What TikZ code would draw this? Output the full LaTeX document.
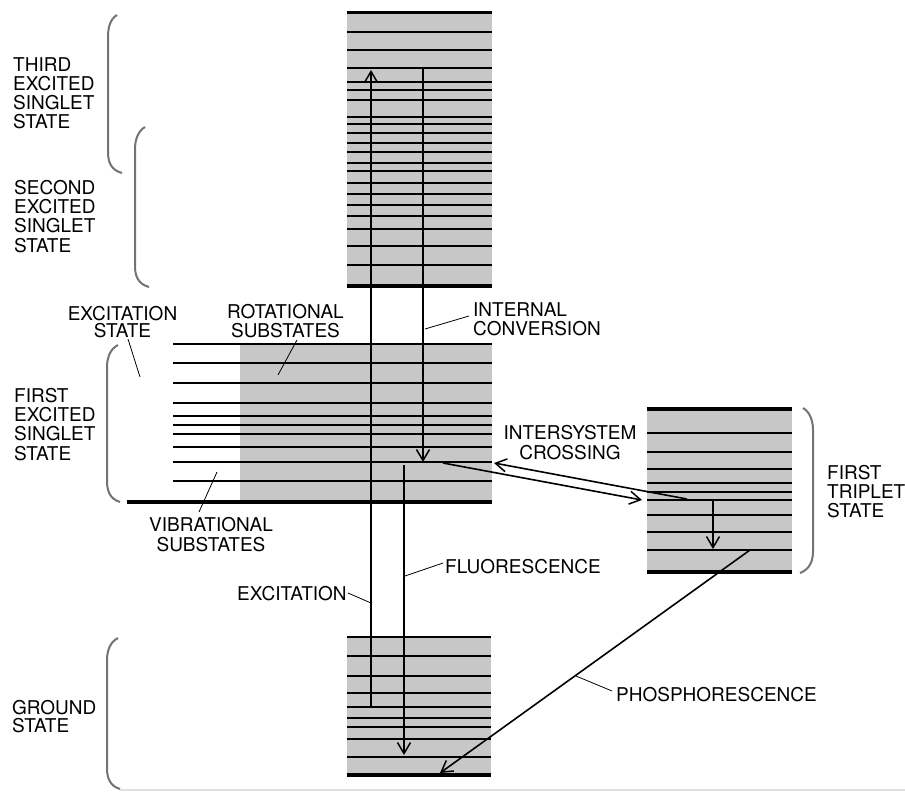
\documentclass[tikz,border=0pt]{standalone}
\usepackage{fontspec}
\setmainfont{TeX Gyre Heros}
\usetikzlibrary{arrows.meta}
\tikzset{
  lvl/.style={line width=1.8pt},
  lvlthick/.style={line width=3.2pt},
  band/.style={fill=black!22, draw=none},
  brk/.style={draw=black!55, line width=2pt},
  arr/.style={line width=1.6pt, -{Straight Barb[length=11pt,width=13pt,line width=1.5pt]}},
  lead/.style={line width=0.8pt},
  lbl/.style={font=\fontsize{19}{19.3}\selectfont, inner sep=0pt, align=left, anchor=north west},
  clbl/.style={font=\fontsize{19}{19.3}\selectfont, inner sep=0pt, align=center, anchor=north}
}
\begin{document}
\begin{tikzpicture}[x=1pt,y=-1pt]
\useasboundingbox (0,0) rectangle (905,792);
\fill[white] (0,0) rectangle (905,792);

% ---- gray bands
\path[band] (347,12.7) rectangle (492,286);
\path[band] (240,344) rectangle (492,502);
\path[band] (647,409) rectangle (792,572);
\path[band] (347,637) rectangle (491,775);

% ---- third/second excited singlet levels
\draw[lvlthick] (347,12.7) -- (492,12.7);
\foreach \y in {31.7,50,68,82,90,100,117,124,133,143,152,163,171,183,194,205,216,229,246,265}
  \draw[lvl] (347,\y) -- (492,\y);
\draw[lvlthick] (347,286) -- (492,286);

% ---- first excited singlet levels
\foreach \y in {344,363,383,403,416,425,434,447,462,481}
  \draw[lvl] (173,\y) -- (492,\y);
\draw[lvlthick] (127,502) -- (492,502);

% ---- first triplet levels
\draw[lvlthick] (647,409) -- (792,409);
\foreach \y in {433,452,469,483,492,500,515,532,550}
  \draw[lvl] (647,\y) -- (792,\y);
\draw[lvlthick] (647,572) -- (792,572);

% ---- ground state levels
\foreach \y in {637,656,676,693,707,718,727,739,757}
  \draw[lvl] (347,\y) -- (491,\y);
\draw[lvlthick] (347,775) -- (491,775);

% ---- brackets
\draw[brk] (117,15) .. controls (110,19) and (108,28) .. (108,37) -- (108,152) .. controls (108,162) and (111,170) .. (122,173);
\draw[brk] (145,127) .. controls (138,131) and (135,140) .. (135,149) -- (135,266) .. controls (135,276) and (138,284) .. (149,287);
\draw[brk] (118,345) .. controls (110,349) and (107,358) .. (107,367) -- (107,481) .. controls (107,491) and (110,499) .. (120,502);
\draw[brk] (118,638) .. controls (110,642) and (107,651) .. (107,660) -- (107,768) .. controls (107,778) and (110,786) .. (120,789);
\draw[brk] (803,408) .. controls (810,412) and (813,421) .. (813,430) -- (813,551) .. controls (813,561) and (810,569) .. (800,573);

% ---- transition endpoints
\coordinate (exA) at (371,707);
\coordinate (exB) at (371,70);
\coordinate (icA) at (423,68);
\coordinate (icB) at (423,462);
\coordinate (flA) at (404,465);
\coordinate (flB) at (404,755);
\coordinate (trA) at (713,500);
\coordinate (trB) at (713,549);
\coordinate (phA) at (750,550);
\coordinate (phB) at (440,773);
\coordinate (isA) at (443,463);
\coordinate (isB) at (642,500);
\coordinate (isC) at (687,499);
\coordinate (isD) at (494,463);

\draw[arr] (exA) -- (exB);
\draw[arr] (icA) -- (icB);
\draw[arr] (flA) -- (flB);
\draw[arr] (trA) -- (trB);
\draw[arr] (phA) -- (phB);
\draw[arr] (isA) -- (isB);
\draw[arr] (isC) -- (isD);

% ---- labels
\node[lbl] (third) at (13,57) {THIRD\\EXCITED\\SINGLET\\STATE};
\node[lbl] (second) at (14,180) {SECOND\\EXCITED\\SINGLET\\STATE};
\node[clbl, font=\fontsize{19}{17.5}\selectfont] (exstate) at (122.5,306) {EXCITATION\\STATE};
\node[clbl] (rot) at (285.5,304) {ROTATIONAL\\SUBSTATES};
\node[lbl] (first) at (14,388) {FIRST\\EXCITED\\SINGLET\\STATE};
\node[clbl, font=\fontsize{19}{20.5}\selectfont] (vib) at (211,517) {VIBRATIONAL\\SUBSTATES};
\node[lbl] (ic) at (473,302) {INTERNAL\\CONVERSION};
\node[clbl, font=\fontsize{19}{20}\selectfont] (isc) at (570,425) {INTERSYSTEM\\CROSSING};
\node[lbl] (trip) at (827,465) {FIRST\\TRIPLET\\STATE};
\node[lbl] (exc) at (237,586) {EXCITATION};
\node[lbl] (fluo) at (445,559) {FLUORESCENCE};
\node[lbl] (phos) at (616,687) {PHOSPHORESCENCE};
\node[lbl, font=\fontsize{19}{18}\selectfont] (ground) at (12,700) {GROUND\\STATE};

% ---- leaders
\coordinate (l1a) at (128,339); \coordinate (l1b) at (140,377);
\coordinate (l2a) at (297,340); \coordinate (l2b) at (278,375);
\coordinate (l3a) at (199,512); \coordinate (l3b) at (217,472);
\coordinate (l4a) at (469,316); \coordinate (l4b) at (425,329);
\coordinate (l5a) at (348,593); \coordinate (l5b) at (371,603);
\coordinate (l6a) at (443,563); \coordinate (l6b) at (405,576);
\coordinate (l7a) at (612,691); \coordinate (l7b) at (576,676);
\draw[lead] (l1a) -- (l1b);
\draw[lead] (l2a) -- (l2b);
\draw[lead] (l3a) -- (l3b);
\draw[lead] (l4a) -- (l4b);
\draw[lead] (l5a) -- (l5b);
\draw[lead] (l6a) -- (l6b);
\draw[lead] (l7a) -- (l7b);

% ---- faint scan edge at bottom
\draw[black!12, line width=1.5pt] (120,790) -- (905,790);
\end{tikzpicture}
\end{document}
